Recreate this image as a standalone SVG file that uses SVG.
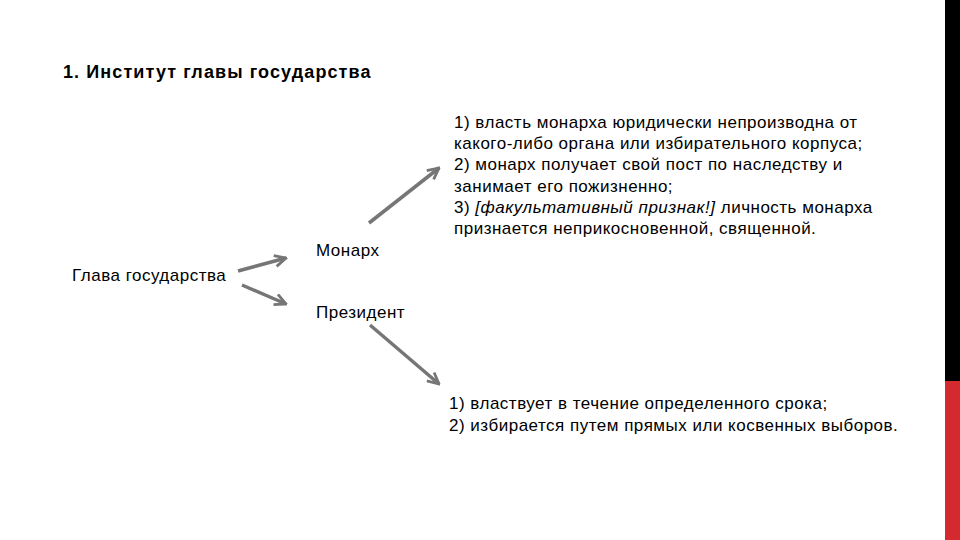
<svg xmlns="http://www.w3.org/2000/svg" width="960" height="540" viewBox="0 0 960 540">
<style>
text{font-family:"Liberation Sans",Arial,sans-serif;fill:#000}
.t{font-size:17px;letter-spacing:0.5px}
.h{font-size:18px;font-weight:bold;letter-spacing:1.1px}
.c{stroke:#767676;stroke-width:3.5;fill:none;stroke-linecap:butt}
</style>
<defs>
<marker id="a" viewBox="0 0 10 10" refX="9" refY="5" markerWidth="4" markerHeight="4" orient="auto" markerUnits="strokeWidth">
<path d="M1,1 L9,5 L1,9" fill="none" stroke="#767676" stroke-width="2"/>
</marker>
</defs>
<rect width="960" height="540" fill="#fff"/>
<rect x="945" y="0" width="15" height="381" fill="#000"/>
<rect x="945" y="381" width="15" height="159" fill="#d42a2f"/>
<g id="title"><text class="h" x="63" y="78">1. Институт главы государства</text></g>
<g id="head"><text class="t" x="72" y="281">Глава государства</text></g>
<g id="monarch"><text class="t" x="316" y="256">Монарх</text></g>
<g id="president"><text class="t" x="316" y="318">Президент</text></g>
<g id="monarch-props">
<text class="t" x="454" y="128">1) власть монарха юридически непроизводна от</text>
<text class="t" x="454" y="149">какого-либо органа или избирательного корпуса;</text>
<text class="t" x="454" y="170">2) монарх получает свой пост по наследству и</text>
<text class="t" x="454" y="192">занимает его пожизненно;</text>
<text class="t" x="454" y="213">3) <tspan font-style="italic">[факультативный признак!]</tspan> личность монарха</text>
<text class="t" x="454" y="234">признается неприкосновенной, священной.</text>
</g>
<g id="president-props">
<text class="t" x="449" y="409">1) властвует в течение определенного срока;</text>
<text class="t" x="449" y="431">2) избирается путем прямых или косвенных выборов.</text>
</g>
<g id="connectors">
<line class="c" x1="238" y1="271" x2="286" y2="258" marker-end="url(#a)"/>
<line class="c" x1="242" y1="285" x2="286" y2="304" marker-end="url(#a)"/>
<line class="c" x1="369" y1="223" x2="439" y2="168" marker-end="url(#a)"/>
<line class="c" x1="370" y1="325" x2="439" y2="384" marker-end="url(#a)"/>
</g>
</svg>
